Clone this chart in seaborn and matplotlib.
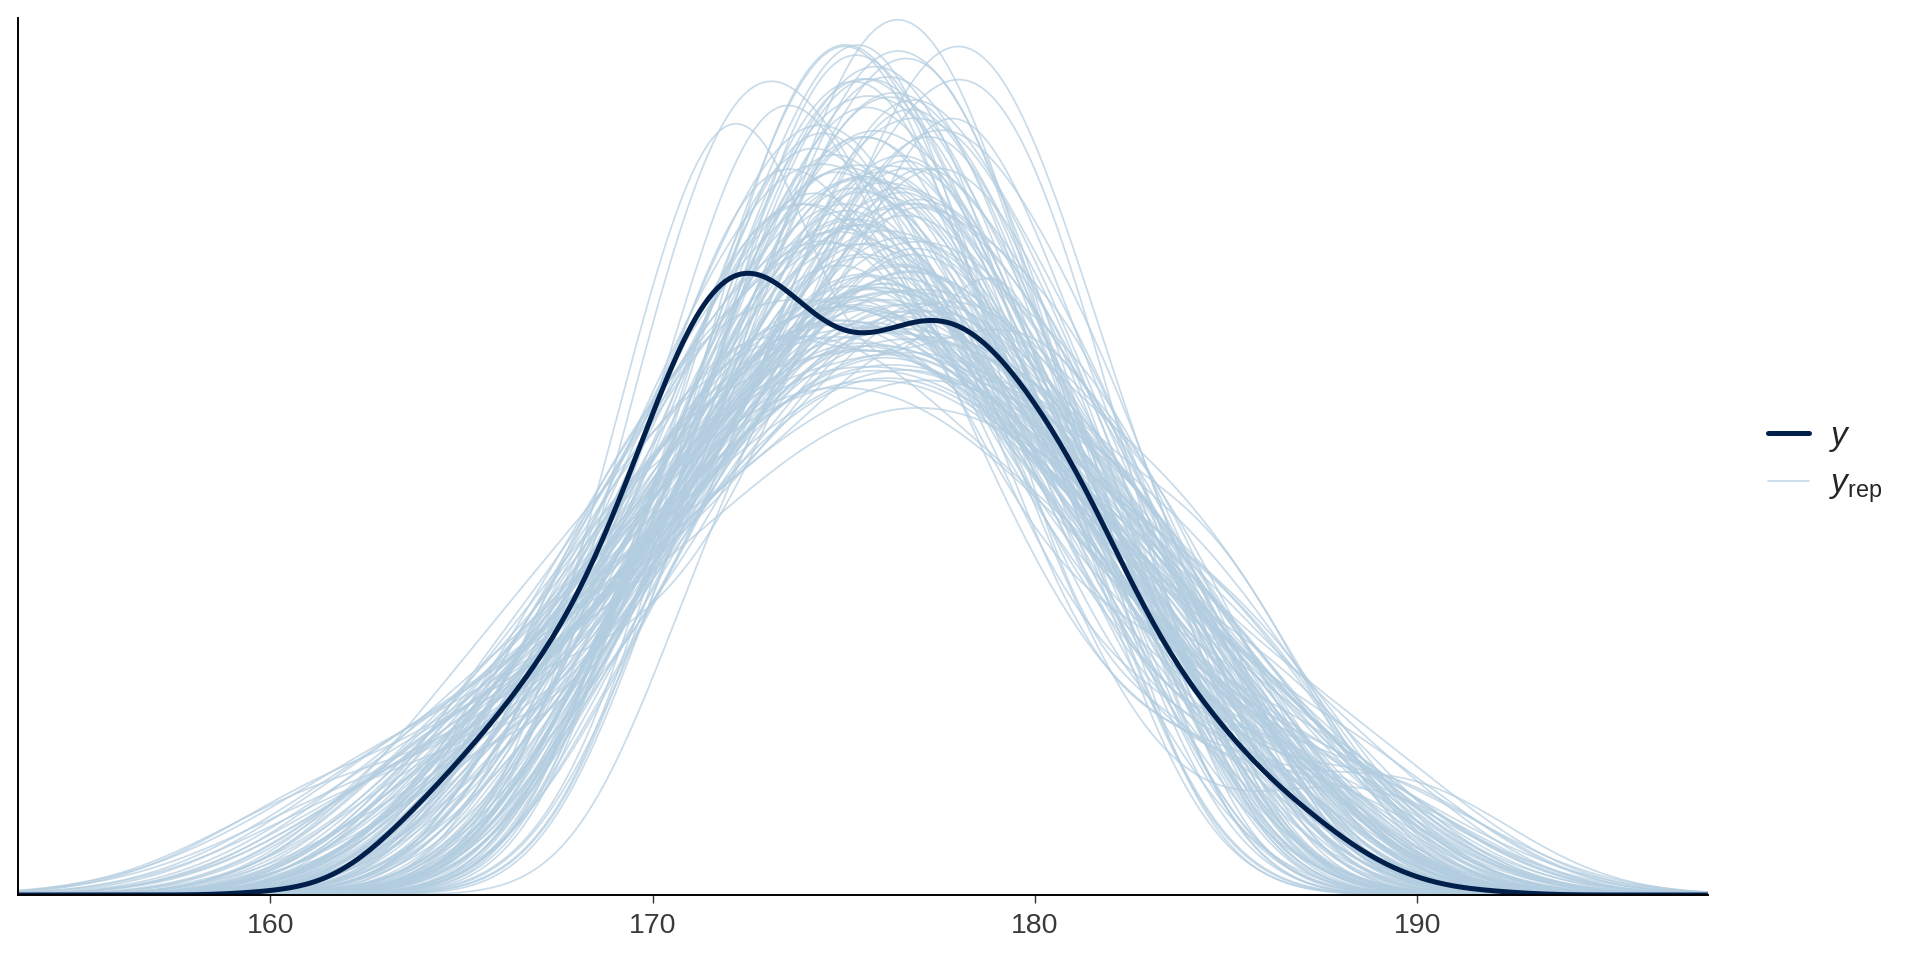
import numpy as np
import pandas as pd
import matplotlib
matplotlib.use('Agg')
import matplotlib.pyplot as plt
from matplotlib.lines import Line2D
import seaborn as sns

# observed heights (cm) and number of people at each height
y_heights = [160, 161, 162, 163, 164, 165, 166, 167, 168, 169, 170, 171, 172, 173, 174, 175, 176,
             177, 178, 179, 180, 181, 182, 183, 184, 185, 186, 187, 188, 189, 190, 191, 192]
y_counts = [1, 1, 4, 11, 19, 27, 36, 46, 57, 75, 96, 119, 128, 127, 116, 109, 111,
            117, 116, 110, 98, 88, 70, 54, 41, 33, 23, 18, 11, 6, 3, 1, 1]

# posterior predictive draws (one list per replicated data set)
yrep_draws = [
    [169.8, 171.2, 172.5, 173.9, 174.4, 175.1, 175.8, 176.6, 177.9, 179.3, 181.0, 183.7],
    [166.4, 170.3, 172.8, 173.1, 174.9, 175.2, 176.0, 177.4, 178.8, 180.5, 182.1, 185.6],
    [168.9, 170.7, 171.4, 172.2, 173.0, 173.6, 174.5, 175.9, 177.2, 178.1, 180.4, 184.3],
    [164.8, 169.5, 171.9, 173.7, 175.0, 175.6, 176.3, 177.0, 177.8, 179.6, 181.4, 182.9],
    [167.2, 170.1, 172.6, 174.2, 174.8, 176.1, 176.9, 177.3, 178.5, 179.9, 183.0, 187.4],
    [165.9, 168.7, 171.0, 172.4, 173.3, 174.0, 174.7, 175.5, 176.8, 178.2, 180.9, 186.2],
    [169.0, 171.2, 172.7, 173.4, 174.1, 175.5, 176.4, 177.0, 178.0, 179.2, 180.6, 183.0],
    [162.5, 168.2, 170.9, 172.7, 174.6, 175.3, 176.5, 178.0, 179.4, 181.2, 183.9, 186.8],
    [168.1, 171.6, 173.2, 174.3, 175.7, 176.4, 177.1, 177.7, 178.6, 180.2, 181.7, 184.8],
    [166.9, 169.2, 170.5, 172.1, 173.8, 174.5, 175.0, 176.0, 177.5, 179.1, 182.6, 185.1],
    [169.3, 172.0, 173.4, 174.9, 175.6, 176.5, 177.2, 178.3, 179.0, 180.7, 181.9, 183.4],
    [161.7, 167.8, 170.2, 171.5, 173.0, 174.2, 175.1, 176.3, 177.8, 179.5, 181.3, 184.0],
    [168.0, 170.5, 172.1, 173.5, 174.0, 174.9, 176.1, 176.7, 177.4, 178.8, 180.1, 182.6],
    [166.1, 169.9, 171.3, 172.9, 175.2, 176.0, 176.6, 177.9, 178.7, 180.3, 183.5, 188.9],
    [167.6, 170.4, 171.7, 173.1, 173.9, 174.6, 175.3, 176.1, 177.4, 179.8, 181.6, 183.1],
    [165.2, 168.0, 170.6, 172.8, 174.4, 175.5, 176.9, 177.6, 178.1, 179.2, 180.8, 185.3],
    [169.0, 171.1, 172.4, 174.7, 175.8, 176.3, 177.3, 178.2, 179.6, 181.1, 182.7, 184.5],
    [164.0, 167.5, 169.8, 171.9, 173.4, 174.1, 175.0, 175.7, 176.8, 178.6, 180.1, 182.4],
    [170.2, 172.2, 173.0, 173.8, 174.5, 175.4, 176.1, 177.0, 178.0, 179.4, 181.5, 186.0],
    [166.7, 169.4, 171.2, 172.6, 174.3, 175.8, 176.7, 177.5, 178.9, 180.6, 182.3, 183.8],
    [168.6, 170.0, 171.5, 172.0, 172.6, 173.2, 174.0, 177.6, 178.3, 179.0, 179.8, 181.4],
    [162.9, 168.5, 171.4, 173.5, 174.6, 175.9, 176.8, 177.4, 179.1, 180.0, 182.8, 187.9],
    [169.0, 171.3, 172.7, 174.1, 175.1, 175.7, 176.5, 177.4, 178.4, 179.3, 180.5, 182.4],
    [167.0, 169.6, 170.8, 172.5, 173.7, 175.0, 176.4, 177.8, 179.3, 180.4, 181.8, 184.2],
    [165.5, 170.5, 172.1, 173.3, 174.8, 175.6, 176.3, 176.9, 178.2, 179.7, 181.2, 183.6],
    [168.3, 171.0, 172.6, 174.1, 175.3, 176.0, 177.6, 178.5, 179.5, 180.9, 182.5, 185.8],
    [166.3, 168.9, 170.3, 171.8, 173.1, 174.3, 175.2, 176.6, 177.3, 178.0, 180.2, 183.3],
    [170.2, 172.0, 173.6, 174.5, 175.4, 176.2, 176.8, 177.7, 178.5, 179.8, 181.0, 183.9],
    [164.4, 169.1, 171.6, 172.9, 174.2, 175.1, 176.1, 176.5, 177.9, 179.0, 181.7, 185.0],
    [167.9, 169.7, 171.1, 172.3, 173.5, 174.7, 175.6, 176.7, 177.4, 178.8, 180.3, 181.9],
    [169.6, 171.5, 173.0, 174.0, 174.6, 175.3, 176.0, 177.1, 178.6, 180.1, 183.2, 189.6],
    [165.7, 168.4, 170.7, 173.4, 174.9, 175.8, 177.0, 178.1, 179.2, 180.8, 182.4, 184.7],
    [169.0, 171.2, 172.6, 173.8, 174.7, 175.6, 176.4, 177.3, 178.3, 179.1, 180.6, 182.9],
    [166.0, 168.8, 171.7, 173.0, 174.1, 174.9, 175.4, 176.3, 178.4, 180.7, 182.0, 186.5],
    [168.7, 170.2, 171.9, 173.7, 175.0, 176.1, 177.2, 178.0, 178.7, 179.9, 181.5, 183.0],
    [161.8, 167.3, 169.5, 171.3, 172.8, 173.9, 175.0, 176.2, 177.6, 179.3, 180.6, 182.9],
    [170.0, 172.1, 173.5, 174.6, 175.2, 176.6, 177.4, 178.3, 179.1, 180.4, 181.9, 184.1],
    [167.4, 169.0, 170.4, 172.0, 174.5, 175.7, 176.5, 177.1, 177.8, 179.5, 183.8, 185.4],
    [167.6, 171.0, 172.6, 173.8, 174.3, 175.1, 175.8, 176.7, 177.9, 179.0, 180.3, 182.5],
    [165.0, 168.6, 170.0, 171.6, 173.6, 174.8, 176.0, 177.2, 178.9, 181.3, 183.1, 188.3],
    [169.7, 170.9, 172.2, 174.0, 176.2, 176.8, 177.5, 178.1, 179.0, 180.2, 181.8, 183.5],
    [166.6, 170.2, 171.8, 172.5, 173.2, 174.4, 175.2, 176.8, 178.3, 179.6, 180.9, 182.7],
    [167.7, 169.3, 171.5, 173.8, 175.3, 176.4, 176.9, 177.7, 178.6, 179.4, 182.2, 186.4],
    [168.5, 171.0, 172.6, 173.5, 174.7, 175.3, 176.2, 177.1, 178.2, 179.5, 181.0, 182.9],
    [162.4, 166.8, 169.7, 172.3, 174.0, 175.6, 176.7, 177.9, 179.7, 181.4, 183.3, 186.1],
    [168.8, 171.2, 172.9, 174.2, 175.0, 175.4, 176.2, 177.3, 178.8, 180.5, 182.9, 189.0],
    [167.1, 169.8, 171.0, 172.4, 173.4, 174.6, 175.5, 176.3, 177.7, 178.5, 179.9, 181.6],
    [169.2, 171.9, 173.1, 174.5, 175.6, 176.7, 177.6, 178.4, 179.2, 180.0, 181.2, 182.8],
    [164.6, 168.1, 170.6, 172.2, 173.7, 174.5, 175.3, 176.0, 177.0, 178.4, 180.7, 184.4],
    [171.0, 172.8, 174.3, 175.6, 176.6, 177.4, 178.1, 178.9, 179.8, 180.9, 182.0, 184.6],
    [167.5, 170.6, 171.8, 172.6, 173.3, 173.9, 174.6, 175.7, 177.9, 179.0, 180.6, 183.1],
    [165.8, 169.3, 171.9, 173.0, 174.0, 175.6, 176.2, 176.7, 178.6, 180.0, 181.5, 184.9],
    [169.1, 170.5, 172.2, 173.7, 175.1, 175.8, 176.9, 177.8, 178.3, 179.9, 181.1, 186.3],
    [163.8, 168.3, 170.1, 172.6, 173.5, 174.7, 175.4, 176.5, 178.1, 179.2, 182.0, 183.6],
    [168.2, 171.7, 172.4, 173.4, 174.2, 174.9, 176.6, 177.1, 178.0, 180.8, 182.3, 185.7],
    [166.5, 168.9, 171.6, 172.5, 174.9, 175.5, 176.0, 177.0, 177.9, 178.8, 181.7, 184.3],
    [170.3, 171.6, 172.7, 173.2, 174.4, 174.9, 175.7, 177.5, 178.9, 180.1, 182.9, 186.9],
    [165.3, 167.9, 170.4, 171.3, 172.5, 173.6, 175.2, 175.8, 176.9, 178.2, 179.5, 182.1],
    [168.6, 170.9, 173.1, 174.3, 174.8, 175.9, 177.3, 178.4, 179.8, 181.0, 182.6, 184.0],
    [167.0, 169.7, 172.4, 173.0, 174.5, 175.3, 175.9, 176.6, 177.3, 179.3, 180.4, 185.5],
    [164.9, 169.4, 170.8, 172.0, 174.1, 175.0, 176.4, 177.5, 178.2, 179.6, 182.2, 183.9],
    [169.9, 171.3, 172.1, 173.5, 175.2, 176.1, 176.8, 177.9, 179.4, 180.7, 181.6, 183.2],
    [166.2, 168.5, 171.1, 172.9, 173.8, 174.7, 175.6, 176.2, 177.6, 178.7, 181.0, 187.2],
    [168.4, 170.6, 172.0, 172.8, 173.4, 174.2, 175.4, 176.8, 178.5, 180.3, 181.4, 182.8],
    [163.2, 167.6, 170.3, 172.4, 174.6, 175.7, 176.6, 177.6, 178.4, 179.9, 181.8, 185.2],
    [170.5, 171.9, 173.3, 174.4, 175.2, 176.3, 177.0, 177.7, 178.8, 180.1, 182.4, 185.0],
    [166.8, 169.1, 170.6, 171.9, 173.2, 174.6, 175.3, 176.1, 177.2, 178.6, 179.8, 181.2],
    [167.3, 170.8, 172.3, 173.6, 174.9, 176.2, 176.9, 178.4, 179.1, 180.2, 183.4, 188.1],
    [168.5, 170.4, 171.6, 173.2, 174.3, 174.9, 175.5, 176.2, 177.1, 178.3, 179.6, 183.8],
    [164.7, 168.2, 171.3, 173.9, 175.4, 176.0, 176.7, 177.4, 178.2, 179.5, 181.1, 182.6],
    [169.0, 172.3, 173.0, 173.7, 174.6, 175.1, 176.4, 178.0, 179.0, 180.9, 182.7, 184.8],
    [166.0, 168.7, 170.2, 171.7, 172.7, 173.8, 175.0, 176.9, 178.1, 179.1, 180.5, 183.0],
    [168.8, 170.9, 172.6, 174.0, 175.5, 176.5, 177.2, 178.0, 178.7, 179.7, 181.3, 185.9],
    [165.6, 169.8, 171.2, 172.8, 174.0, 174.8, 175.7, 176.5, 177.6, 179.0, 182.5, 184.1],
    [169.6, 171.0, 172.3, 173.8, 174.7, 175.4, 176.2, 177.4, 178.6, 179.9, 181.2, 183.3],
    [162.7, 167.1, 169.9, 171.4, 173.5, 175.0, 176.3, 177.3, 178.8, 180.2, 182.1, 184.6],
    [169.5, 170.7, 172.0, 174.8, 175.6, 176.3, 177.0, 177.6, 178.5, 180.5, 183.7, 187.6],
    [167.2, 169.5, 171.0, 172.2, 173.1, 174.4, 174.9, 176.0, 177.4, 178.5, 180.0, 181.5],
    [166.4, 170.1, 171.8, 173.3, 174.2, 175.7, 176.6, 177.2, 178.7, 181.3, 182.8, 185.4],
    [168.7, 171.1, 172.7, 173.1, 174.5, 175.2, 176.0, 176.7, 177.8, 178.9, 181.6, 183.4],
    [165.1, 168.8, 170.7, 172.1, 173.0, 174.3, 175.9, 177.4, 178.4, 179.3, 180.6, 182.3],
    [169.3, 171.0, 173.4, 174.6, 175.3, 176.4, 177.3, 178.1, 179.6, 181.4, 182.9, 184.2],
    [167.8, 170.3, 171.5, 172.3, 173.6, 174.5, 175.1, 176.5, 177.7, 179.5, 181.9, 186.0],
    [166.9, 168.6, 171.4, 173.0, 173.7, 175.4, 176.1, 177.0, 177.9, 178.6, 180.3, 182.0],
    [170.7, 172.0, 172.9, 174.3, 175.1, 175.8, 176.6, 177.5, 178.2, 179.4, 181.9, 186.6],
    [164.3, 167.9, 170.0, 171.5, 172.9, 174.0, 175.5, 176.3, 177.4, 178.9, 181.2, 183.7],
    [168.1, 170.6, 172.5, 173.8, 174.6, 175.6, 176.5, 177.8, 179.0, 180.0, 181.4, 182.7],
    [166.6, 169.2, 172.0, 173.5, 174.7, 175.2, 176.0, 177.2, 178.8, 180.6, 183.2, 185.1],
    [168.8, 171.2, 172.6, 173.9, 174.5, 175.4, 176.3, 177.1, 178.2, 179.4, 180.8, 182.2],
    [165.4, 168.1, 170.9, 172.7, 174.4, 176.1, 177.1, 178.2, 179.2, 180.4, 181.9, 184.4],
    [167.4, 169.6, 171.2, 172.6, 173.4, 174.1, 174.8, 175.8, 177.0, 178.2, 179.7, 184.5],
    [168.9, 171.5, 173.6, 174.9, 175.7, 176.9, 177.7, 178.6, 179.3, 180.8, 182.2, 183.5],
    [166.1, 170.0, 171.6, 172.3, 173.3, 175.0, 175.8, 176.4, 177.3, 178.1, 180.7, 188.4],
    [169.6, 170.8, 172.4, 173.8, 174.8, 175.5, 176.2, 177.6, 178.6, 179.8, 181.0, 182.4],
    [163.6, 168.4, 171.0, 172.5, 173.9, 175.1, 176.2, 176.9, 178.0, 179.7, 182.4, 185.8],
    [168.3, 171.3, 172.9, 174.0, 174.9, 176.0, 176.7, 177.4, 178.4, 179.2, 180.4, 183.1],
    [167.6, 169.0, 170.5, 171.8, 173.7, 174.6, 175.2, 176.1, 177.5, 179.3, 181.5, 184.7],
    [169.0, 171.5, 173.1, 174.1, 175.0, 175.9, 176.8, 177.6, 178.7, 179.7, 181.2, 183.0],
    [165.9, 169.3, 171.7, 173.1, 174.3, 175.4, 176.8, 177.9, 178.6, 180.1, 181.7, 186.8],
    [168.0, 170.2, 171.9, 173.4, 174.4, 175.3, 176.0, 176.9, 178.3, 179.5, 182.0, 184.0],
    [166.2, 168.9, 170.4, 171.1, 172.8, 173.2, 175.9, 176.3, 176.8, 178.9, 179.4, 181.6, 183.0, 185.7],
    [164.5, 169.7, 170.3, 172.5, 173.9, 174.1, 174.6, 177.8, 178.5, 179.1, 180.0, 182.4, 184.6, 186.1],
    [167.9, 169.2, 171.8, 172.4, 173.0, 175.5, 175.9, 176.2, 178.7, 179.8, 180.4, 181.1, 184.3, 187.0],
    [163.8, 166.7, 170.9, 171.5, 172.2, 174.4, 175.0, 176.6, 177.0, 177.6, 180.2, 181.5, 183.9, 185.0],
    [168.3, 170.1, 170.8, 173.7, 174.3, 174.9, 175.2, 177.9, 178.3, 180.5, 181.0, 182.8, 183.6, 188.2],
    [165.4, 167.3, 169.9, 171.6, 172.9, 173.4, 174.0, 175.7, 177.3, 178.1, 178.6, 180.9, 182.2, 184.8],
    [169.0, 170.6, 172.3, 172.7, 174.8, 175.6, 176.1, 176.9, 178.2, 179.6, 181.8, 182.5, 185.3, 186.9],
    [162.9, 167.8, 169.4, 171.9, 173.6, 174.2, 175.3, 175.8, 176.4, 178.8, 179.5, 181.2, 183.4, 184.1],
    [167.1, 168.5, 171.2, 172.0, 173.1, 173.5, 176.5, 177.2, 177.7, 178.4, 180.7, 182.0, 183.2, 186.5],
    [166.0, 169.0, 170.7, 172.6, 174.5, 174.8, 175.4, 176.0, 177.5, 179.3, 180.1, 181.9, 182.6, 184.4],
    [168.8, 171.4, 172.1, 173.8, 174.0, 176.7, 177.4, 177.9, 178.8, 179.7, 181.3, 183.8, 185.5, 189.3],
    [164.2, 166.9, 168.6, 170.5, 171.3, 172.9, 173.7, 174.4, 176.2, 177.1, 178.0, 180.6, 182.1, 183.5],
    [169.5, 170.2, 172.4, 174.6, 175.0, 175.3, 176.8, 177.3, 178.6, 179.0, 180.8, 181.7, 183.1, 185.9],
    [165.7, 168.2, 170.0, 171.4, 173.3, 174.7, 175.6, 176.6, 177.8, 178.3, 179.9, 182.9, 184.0, 187.3],
    [167.6, 169.5, 171.0, 172.2, 172.6, 173.9, 175.1, 177.0, 178.1, 179.2, 179.8, 181.4, 182.3, 183.7],
    [166.5, 170.3, 171.7, 173.0, 174.2, 175.8, 176.3, 176.9, 177.6, 179.5, 181.1, 182.7, 185.1, 186.2],
    [168.1, 168.7, 170.6, 172.1, 173.4, 174.1, 175.2, 176.1, 177.1, 178.7, 180.4, 181.0, 184.2, 185.6],
    [163.4, 167.5, 169.8, 171.8, 172.9, 174.6, 175.5, 177.5, 178.0, 178.9, 180.3, 182.4, 183.3, 186.7],
    [169.2, 171.1, 172.8, 173.5, 174.9, 175.7, 176.4, 177.7, 178.5, 180.0, 181.5, 183.9, 184.7, 188.8],
    [165.9, 168.4, 169.7, 171.2, 172.3, 173.2, 174.5, 175.9, 176.7, 177.3, 179.0, 180.5, 181.8, 183.4],
    [167.3, 170.5, 172.5, 173.1, 173.6, 174.3, 176.0, 177.6, 178.4, 178.8, 180.6, 182.2, 184.5, 186.3],
    [164.8, 168.0, 171.3, 172.0, 173.7, 175.1, 175.6, 176.2, 177.9, 179.4, 181.2, 181.9, 183.6, 185.2],
    [168.6, 169.9, 171.5, 172.8, 174.0, 174.4, 175.3, 176.5, 177.4, 178.6, 179.6, 180.9, 182.8, 187.8],
    [166.3, 167.9, 170.2, 171.7, 173.5, 175.4, 176.0, 177.2, 178.2, 179.1, 180.0, 182.5, 183.7, 184.9],
    [169.7, 171.2, 173.3, 174.7, 175.2, 175.6, 177.1, 177.8, 178.3, 179.9, 181.4, 182.1, 185.2, 186.6],
    [162.6, 166.4, 168.8, 170.9, 172.3, 173.8, 174.9, 175.8, 176.9, 178.0, 179.7, 181.3, 182.9, 184.3],
    [167.8, 169.3, 170.7, 172.7, 173.8, 174.5, 175.7, 176.4, 177.2, 178.5, 180.3, 181.6, 183.0, 185.4],
    [165.2, 169.6, 171.4, 172.9, 174.4, 175.0, 176.2, 177.0, 178.1, 179.3, 180.2, 182.6, 184.1, 187.5],
    [168.4, 170.8, 171.9, 173.2, 174.1, 174.8, 175.5, 176.3, 177.5, 178.7, 179.4, 181.7, 182.4, 183.8],
    [166.7, 168.3, 170.5, 171.6, 173.1, 174.0, 176.1, 176.8, 177.7, 179.0, 180.7, 182.3, 185.8, 186.9],
    [169.1, 171.6, 172.2, 173.6, 174.6, 175.9, 176.6, 177.4, 178.8, 179.8, 181.6, 183.4, 184.4, 187.1],
    [164.1, 167.2, 169.5, 171.0, 172.4, 173.7, 174.7, 175.4, 176.0, 177.8, 178.9, 180.1, 181.5, 184.6],
    [167.5, 170.0, 172.6, 173.4, 174.3, 175.3, 176.7, 177.3, 178.0, 179.6, 180.9, 182.0, 183.5, 185.1],
    [165.6, 168.6, 170.3, 172.4, 173.0, 174.6, 175.8, 176.5, 178.3, 179.2, 180.6, 181.4, 184.8, 188.0],
    [168.9, 170.4, 171.6, 173.9, 174.8, 175.5, 176.4, 177.1, 177.6, 178.4, 179.5, 181.8, 183.2, 184.5],
    [166.1, 168.1, 169.6, 171.3, 172.5, 173.6, 174.9, 175.6, 176.6, 178.2, 179.7, 181.0, 182.7, 185.7],
    [169.4, 170.9, 172.9, 174.2, 175.1, 176.2, 177.0, 177.9, 178.7, 180.4, 181.9, 182.8, 184.9, 186.4],
    [163.9, 167.0, 170.1, 171.5, 173.2, 174.5, 175.4, 176.3, 177.2, 178.6, 179.3, 181.5, 183.1, 185.3],
    [167.2, 169.1, 171.1, 172.3, 173.7, 174.9, 175.7, 176.7, 177.4, 178.1, 180.5, 182.9, 184.3, 187.7],
    [165.8, 168.8, 170.6, 172.8, 173.9, 174.2, 175.1, 176.0, 177.6, 178.9, 180.8, 181.7, 183.3, 184.2],
    [168.2, 170.7, 172.0, 173.3, 174.4, 175.8, 176.9, 177.7, 178.4, 179.5, 181.2, 182.4, 185.4, 189.0],
    [164.9, 167.6, 169.3, 170.8, 172.1, 173.5, 174.3, 175.2, 176.5, 177.5, 178.8, 180.4, 182.0, 183.9],
    [169.3, 170.5, 172.7, 174.0, 175.4, 176.0, 176.8, 177.8, 178.6, 179.7, 181.3, 183.6, 184.6, 186.0],
    [166.6, 169.4, 171.8, 172.6, 173.6, 174.7, 175.6, 176.4, 177.3, 178.3, 180.0, 181.8, 182.5, 185.0],
    [167.4, 168.5, 170.9, 172.5, 173.3, 174.1, 175.9, 176.6, 177.9, 179.1, 180.5, 183.0, 184.0, 186.8],
    [163.3, 166.6, 169.0, 171.4, 172.7, 174.3, 175.0, 176.1, 177.0, 178.5, 179.6, 181.1, 182.8, 185.6],
    [168.7, 171.3, 172.4, 173.7, 175.0, 175.7, 176.5, 177.5, 178.2, 179.4, 180.7, 182.3, 184.2, 187.4],
    [165.3, 168.2, 170.8, 172.2, 173.5, 174.8, 175.3, 176.2, 177.7, 179.0, 180.1, 181.6, 183.8, 185.8],
    [167.7, 169.8, 171.7, 173.1, 174.5, 175.1, 176.6, 177.4, 178.9, 179.9, 181.5, 182.6, 183.9, 188.5],
    [166.4, 168.0, 170.2, 171.9, 173.0, 174.2, 175.5, 176.8, 177.1, 178.0, 179.3, 180.3, 181.9, 184.7],
]

x_range = (153.4, 197.6)
x_ticks = [160, 170, 180, 190]

dark = '#011f4b'
light = '#b3cde0'

sns.set_style('ticks')
plt.rcParams['font.family'] = ['Liberation Sans', 'DejaVu Sans']
plt.rcParams['mathtext.fontset'] = 'custom'
plt.rcParams['mathtext.rm'] = 'Liberation Sans'
plt.rcParams['mathtext.it'] = 'Liberation Sans:italic'

rep_names = ['rep%03d' % i for i in range(len(yrep_draws))]
rep_df = pd.DataFrame({
    'height': np.concatenate(yrep_draws),
    'rep': np.repeat(rep_names, [len(d) for d in yrep_draws]),
})

fig, ax = plt.subplots(figsize=(19.2, 9.6), dpi=100)
fig.subplots_adjust(left=0.0094, right=0.8896, bottom=0.0677, top=0.9812)

# replicated densities
sns.kdeplot(data=rep_df, x='height', hue='rep', palette={r: light for r in rep_names},
            common_norm=False, bw_adjust=0.88, cut=10, clip=x_range, gridsize=400,
            linewidth=1.25, alpha=0.7, legend=False, ax=ax)

# observed density (bandwidth 1 cm)
y_sd = np.sqrt(np.cov(y_heights, aweights=y_counts))
sns.kdeplot(x=y_heights, weights=y_counts, bw_method=1.0 / y_sd, cut=20, clip=x_range,
            gridsize=400, color=dark, linewidth=3.6, ax=ax)

top = max(line.get_ydata().max() for line in ax.lines)
ax.set_ylim(0, top * 1.002)
ax.set_xlim(*x_range)
ax.set_xticks(x_ticks)
ax.set_yticks([])
ax.set_xlabel('')
ax.set_ylabel('')
ax.tick_params(axis='x', length=6, width=1, color='#333333', labelsize=20.5,
               labelcolor='#3a3a3a', pad=7)
sns.despine(ax=ax)
for side in ['left', 'bottom']:
    ax.spines[side].set_color('black')
    ax.spines[side].set_linewidth(1.4)

handles = [Line2D([], [], color=dark, lw=3.6, solid_capstyle='round'),
           Line2D([], [], color=light, alpha=0.7, lw=1.3)]
fig.legend(handles, ['$y$', r'$y_{\mathrm{rep}}$'], loc='center left',
           bbox_to_anchor=(0.912, 0.518), frameon=False, fontsize=24,
           borderpad=0, handlelength=1.23, handletextpad=0.6, labelspacing=0.45)

fig.savefig('out.png', dpi=100)
